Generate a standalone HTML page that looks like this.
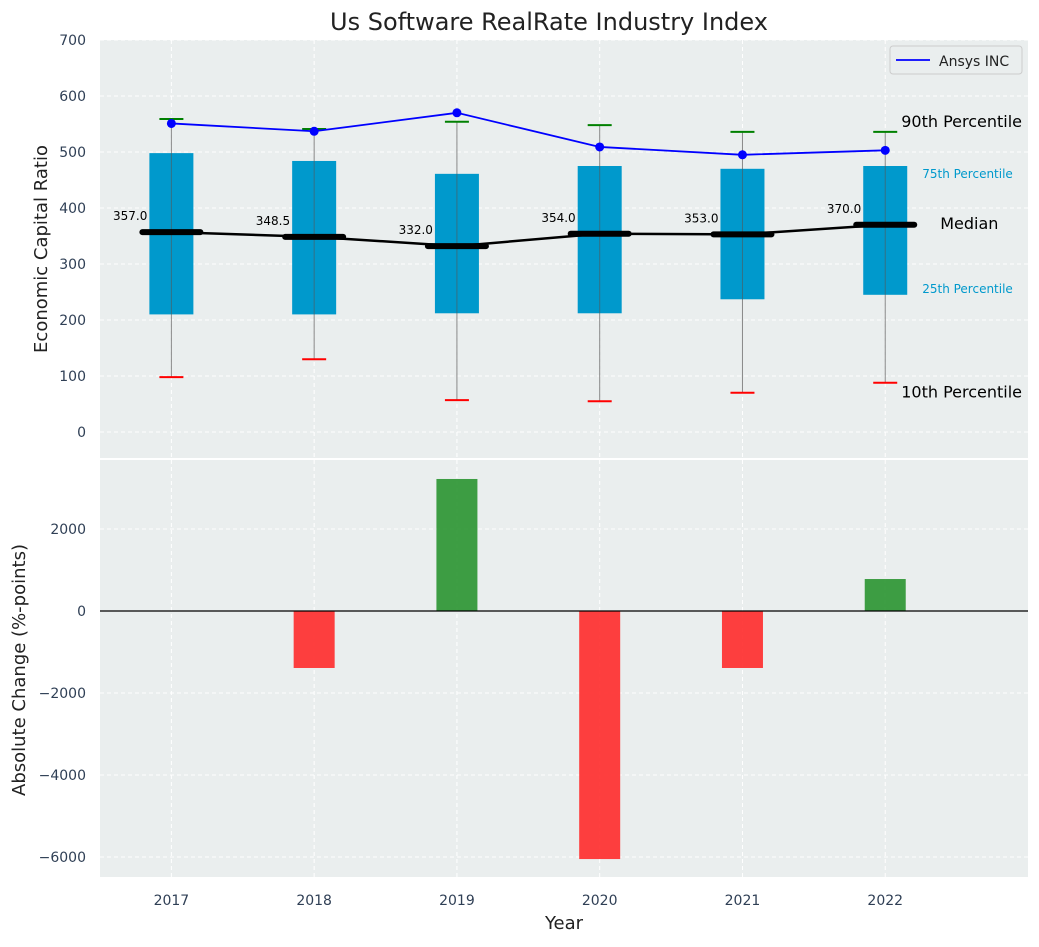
<!DOCTYPE html>
<html><head><meta charset="utf-8"><style>
body{margin:0;background:#fff}
svg text{font-family:"DejaVu Sans","Liberation Sans",sans-serif}
</style></head><body>
<svg id="c" width="1039" height="942" xmlns="http://www.w3.org/2000/svg"></svg>
<script>
const years=[2017,2018,2019,2020,2021,2022];
const p10=[98,130,57,55,70,88];
const q1=[210,210,212,212,237,245];
const med=[357,348.5,332,354,353,370];
const q3=[498,484,461,475,470,475];
const p90=[559,541,554,548,536,536];
const ansys=[551,537,570,509,495,503];
const changes=[0,-1390,3220,-6050,-1390,780];
const topTicks=[0,100,200,300,400,500,600,700];
const botTicks=[2000,0,-2000,-4000,-6000];

const NS="http://www.w3.org/2000/svg";
const svg=document.getElementById('c');
function el(t,a,p){const e=document.createElementNS(NS,t);for(const k in a)e.setAttribute(k,a[k]);(p||svg).appendChild(e);return e;}
const X0=100,X1=1028;
const xs=v=>X0+(v-2016.5)/(2023-2016.5)*(X1-X0);
const yt=v=>432-v*0.56;
const yb=v=>611-v*0.041;

let t=el('text',{x:549,y:30,'font-size':24,'text-anchor':'middle',fill:'#222'});t.textContent='Us Software RealRate Industry Index';


let bg=el('rect',{x:X0,y:40,width:X1-X0,height:418,fill:'#eaeeee'});

topTicks.forEach(v=>{
 el('line',{x1:X0,x2:X1,y1:yt(v),y2:yt(v),stroke:'#fff','stroke-dasharray':'4,3','stroke-width':1});
 const tx=el('text',{x:86,y:yt(v)+5,'font-size':14,'text-anchor':'end',fill:'#2f3f55'});tx.textContent=v;
 
});
years.forEach(y=>el('line',{x1:xs(y),x2:xs(y),y1:40,y2:458,stroke:'#fff','stroke-dasharray':'4,3'}));
let bg2=el('rect',{x:X0,y:460,width:X1-X0,height:417,fill:'#eaeeee'});

botTicks.forEach(v=>{
 el('line',{x1:X0,x2:X1,y1:yb(v),y2:yb(v),stroke:'#fff','stroke-dasharray':'4,3'});
 const tx=el('text',{x:86,y:yb(v)+5,'font-size':14,'text-anchor':'end',fill:'#2f3f55'});tx.textContent=String(v).replace('-','\u2212');
 
});
years.forEach(y=>el('line',{x1:xs(y),x2:xs(y),y1:460,y2:877,stroke:'#fff','stroke-dasharray':'4,3'}));

const bw=22,cw=12;
years.forEach((y,i)=>{
 const cx=xs(y);
 const g=el('g',{});
 
 el('line',{x1:cx,x2:cx,y1:yt(p90[i]),y2:yt(p10[i]),stroke:'#888','stroke-width':1},g);
 el('rect',{x:cx-bw,y:yt(q3[i]),width:2*bw,height:yt(q1[i])-yt(q3[i]),fill:'#0099cc'},g);
 el('line',{x1:cx,x2:cx,y1:yt(q3[i]),y2:yt(q1[i]),stroke:'#555','stroke-width':1,opacity:0.6},g);
 el('line',{x1:cx-cw,x2:cx+cw,y1:yt(p90[i]),y2:yt(p90[i]),stroke:'green','stroke-width':2},g);
 el('line',{x1:cx-cw,x2:cx+cw,y1:yt(p10[i]),y2:yt(p10[i]),stroke:'red','stroke-width':2},g);
 el('line',{x1:cx-29,x2:cx+29,y1:yt(med[i]),y2:yt(med[i]),stroke:'#000','stroke-width':6,'stroke-linecap':'round'},g);
 const lt=el('text',{x:cx-24,y:yt(med[i])-12,'font-size':12,'text-anchor':'end',fill:'#000'},g);lt.textContent=med[i].toFixed(1);
});
let mp=el('polyline',{points:years.map((y,i)=>xs(y)+','+yt(med[i])).join(' '),fill:'none',stroke:'#000','stroke-width':2.5});

let ap=el('polyline',{points:years.map((y,i)=>xs(y)+','+yt(ansys[i])).join(' '),fill:'none',stroke:'blue','stroke-width':1.8});

years.forEach((y,i)=>{const c=el('circle',{cx:xs(y),cy:yt(ansys[i]),r:4.5,fill:'blue'});
 });

const last=5,lx=xs(years[last]);
[[p90[last],'90th Percentile',16,'#000',16,-10],[q3[last],'75th Percentile',12,'#0099cc',37,7],[med[last],'Median',16,'#000',55,-1],[q1[last],'25th Percentile',12,'#0099cc',37,-7],[p10[last],'10th Percentile',16,'#000',16,10]].forEach(a=>{
 const tx=el('text',{x:lx+a[4],y:yt(a[0])+a[5]+5,'font-size':a[2],fill:a[3]});tx.textContent=a[1];
 
});

const lg=el('g',{});
el('rect',{x:890,y:46,width:132,height:28,rx:3,fill:'#eaeeee',stroke:'#ccc'},lg);
el('line',{x1:896,x2:930,y1:60,y2:60,stroke:'blue','stroke-width':1.8},lg);
const lt=el('text',{x:939,y:66,'font-size':14,fill:'#222'},lg);lt.textContent='Ansys INC';

years.forEach((y,i)=>{
 const v=changes[i];if(v===0)return;
 const r=el('rect',{x:xs(y)-20.5,y:Math.min(yb(v),yb(0)),width:41,height:Math.abs(yb(v)-yb(0)),fill:v>0?'#2a9430':'#ff2a2a',opacity:0.9});
 
});
el('line',{x1:X0,x2:X1,y1:yb(0),y2:yb(0),stroke:'#000','stroke-width':1.2});

years.forEach(y=>{const tx=el('text',{x:xs(y),y:905,'font-size':14,'text-anchor':'middle',fill:'#2f3f55'});tx.textContent=y;
 });
let xt=el('text',{x:564,y:929,'font-size':18,'text-anchor':'middle',fill:'#222'});xt.textContent='Year';

let y1=el('text',{x:0,y:0,'font-size':18,'text-anchor':'middle',fill:'#222',transform:'translate(47,249) rotate(-90)'});y1.textContent='Economic Capital Ratio';

let y2=el('text',{x:0,y:0,'font-size':18,'text-anchor':'middle',fill:'#222',transform:'translate(25,670) rotate(-90)'});y2.textContent='Absolute Change (%-points)';

</script>
</body></html>
